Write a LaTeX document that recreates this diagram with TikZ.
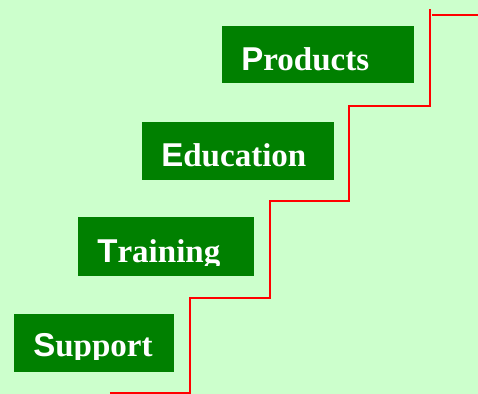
\documentclass[tikz,border=0pt]{standalone}
\usepackage{fontspec}
\setmainfont{Liberation Serif}
\newfontfamily\capfont{Liberation Sans}
\usepackage{tikz}

\definecolor{bggreen}{HTML}{CCFFCC}
\definecolor{boxgreen}{HTML}{008000}
\definecolor{stairred}{HTML}{FF0000}

\tikzset{
  stepbox/.style={fill=boxgreen, inner sep=0pt, anchor=north west},
  stepword/.style={text=white, inner sep=0pt, anchor=base west,
    font=\fontsize{18.8}{18.8}\selectfont\bfseries},
  stair/.style={draw=stairred, line width=0.85pt}
}

% word in a box, cut off a little under its baseline
\newcommand\boxword[5]{%
  \begin{scope}
    \clip (#2-5,#3-40) rectangle (#2+200,#3+3);
    \node[stepword] (#1) at (#2,#3) {{\capfont #4}#5};
  \end{scope}}

\begin{document}
\begin{tikzpicture}[x=0.02cm, y=-0.02cm]
    % Background
    \fill[bggreen] (0,0) rectangle (478,394);
    \useasboundingbox (0,0) rectangle (478,394);

    % Draw the boxes
    \node[stepbox, minimum width=3.84cm, minimum height=1.14cm] (prodbox) at (222,26) {};
    \node[stepbox, minimum width=3.84cm, minimum height=1.16cm] (edubox) at (142,122) {};
    \node[stepbox, minimum width=3.52cm, minimum height=1.18cm] (trainbox) at (78,217) {};
    \node[stepbox, minimum width=3.20cm, minimum height=1.16cm] (suppbox) at (14,314) {};

    % Add the words
    \boxword{prod}{241}{71}{P}{roducts}
    \boxword{edu}{161}{167}{E}{ducation}
    \boxword{train}{97}{263}{T}{raining}
    \boxword{supp}{33}{357}{S}{upport}

    % Draw the stairs
    \coordinate (s0) at (110,393);
    \coordinate (s1) at (190,298);
    \coordinate (s2) at (270,201);
    \coordinate (s3) at (349,106);
    \coordinate (s4) at (430,9);
    \draw[stair] (s0) -| (s1) -| (s2) -| (s3) -| (s4);
    \coordinate (t0) at (432,15);
    \coordinate (t1) at (478,15);
    \draw[stair] (t0) -- (t1);
\end{tikzpicture}
\end{document}
